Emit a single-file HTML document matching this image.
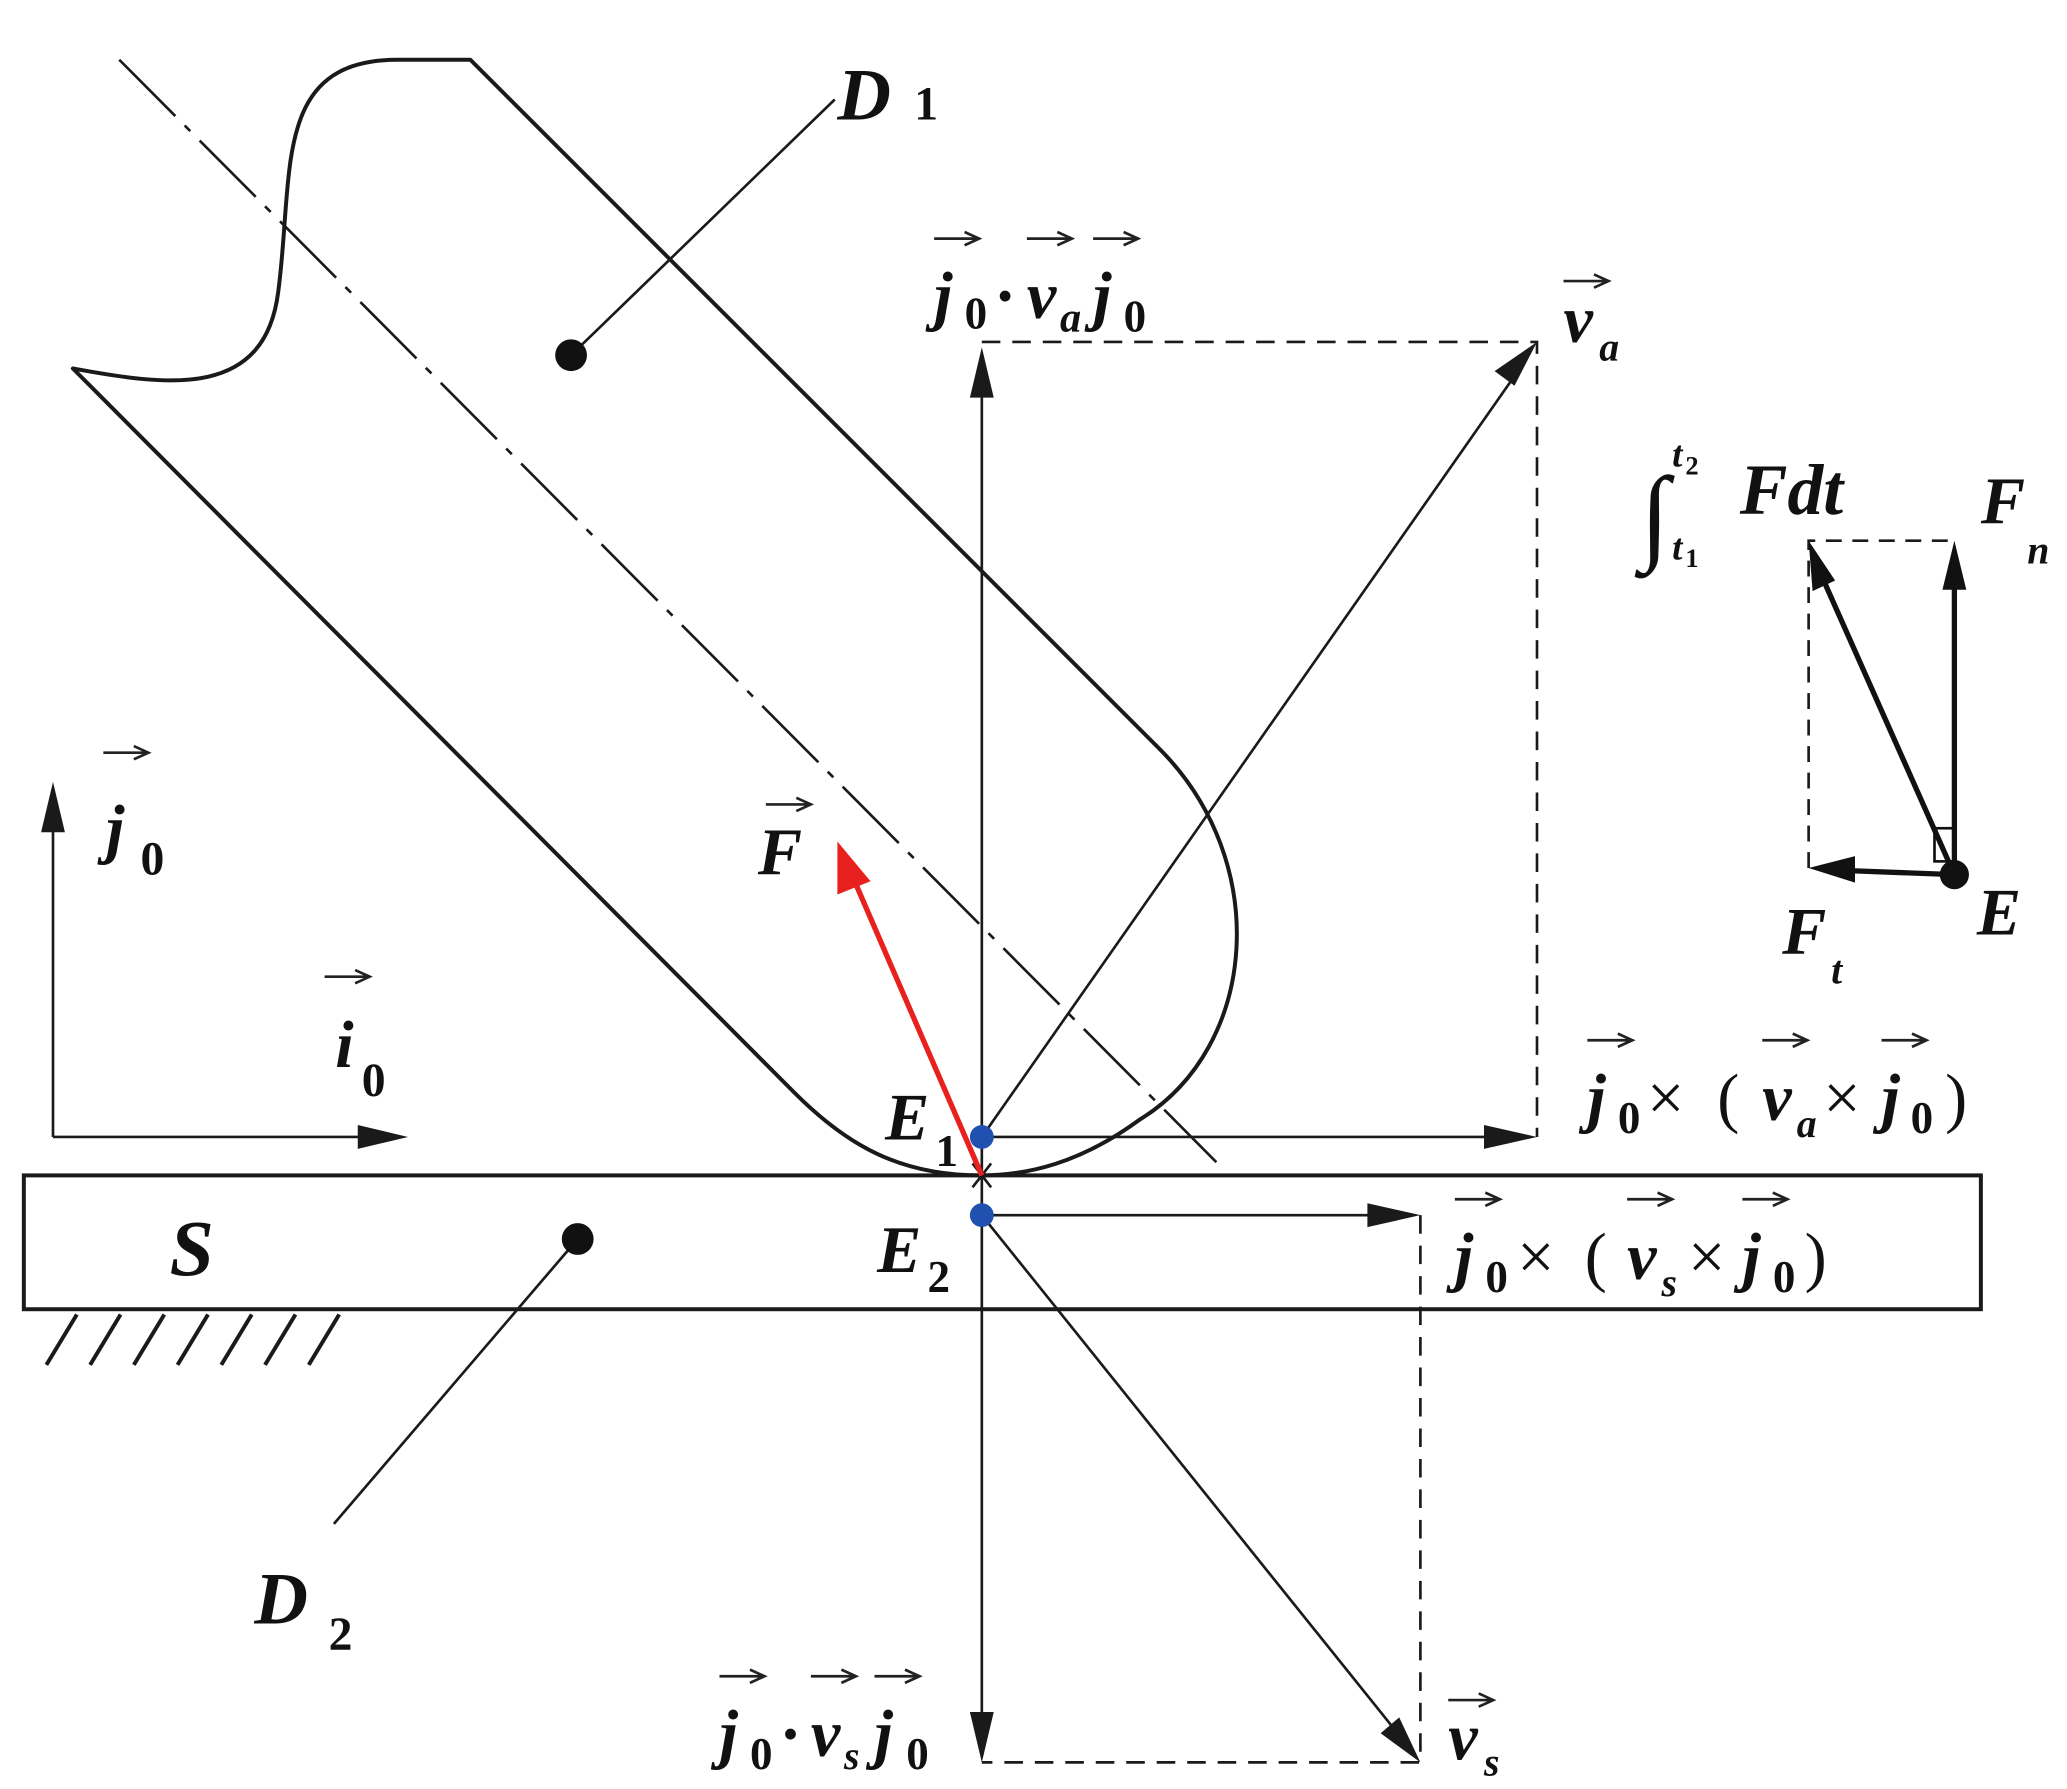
<!DOCTYPE html>
<html><head><meta charset="utf-8"><style>html,body{margin:0;padding:0;background:#fff}svg{display:block}</style></head>
<body>
<svg width="2067" height="1789" viewBox="0 0 1560 1350" xmlns="http://www.w3.org/2000/svg">
<defs>
<marker id="ah" markerWidth="10" markerHeight="8" refX="9" refY="4" orient="auto" markerUnits="userSpaceOnUse" viewBox="0 0 10 8">
</marker>
<g id="va"><path d="M0,0 H33 M23,-5 L34,0 L23,5" fill="none" stroke="#222" stroke-width="2"/></g>
</defs>
<g fill="none" stroke="#1a1a1a" stroke-width="3">
<!-- tool -->
<path d="M355,45 L875,565 C960,650 950,790 860,845 C815,878 775,887 740,887 C680,887 640,865 600,825 L55,278 C130,292 200,300 210,220 C222,130 205,45 300,45 Z" stroke-linejoin="round"/>
<!-- plate -->
<rect x="18" y="887" width="1477" height="101"/>
</g>
<g stroke="#1a1a1a" stroke-width="2" fill="none">
<line x1="90" y1="45" x2="918" y2="877" stroke-dasharray="60,10,6,10"/>
<line x1="431" y1="268" x2="630" y2="75"/>
<line x1="436" y1="935" x2="252" y2="1150"/>
<!-- hatch -->
<path d="M35,1030 L58,992 M68,1030 L91,992 M101,1030 L124,992 M134,1030 L157,992 M167,1030 L190,992 M200,1030 L223,992 M233,1030 L256,992" stroke-width="3"/>
<!-- vertical axis -->
<line x1="741" y1="290" x2="741" y2="1300"/>
<!-- dashed -->
<path d="M741,258 H1160 V858 M1072,917 V1330 H741" stroke-dasharray="14,9"/>
<path d="M1365,655 V408 H1475" stroke-dasharray="12,8"/>
<line x1="741" y1="858" x2="1125" y2="858"/>
<line x1="741" y1="858" x2="1140" y2="288"/>
<line x1="741" y1="917" x2="1040" y2="917"/>
<line x1="741" y1="917" x2="1050" y2="1302"/>
<line x1="40" y1="858" x2="40" y2="620"/>
<line x1="40" y1="858" x2="275" y2="858"/>
<!-- cross -->
<path d="M734,878 L748,896 M748,878 L734,896"/>
</g>
<!-- arrowheads -->
<g fill="#1a1a1a">
<polygon points="741,262 732,300 750,300"/>
<polygon points="741,1330 732,1292 750,1292"/>
<polygon points="1160,858 1120,849 1120,867"/>
<polygon points="1160,258 1128,280 1143,291"/>
<polygon points="1072,917 1032,908 1032,926"/>
<polygon points="1072,1330 1042,1308 1056,1296"/>
<polygon points="40,590 31,628 49,628"/>
<polygon points="308,858 270,849 270,867"/>
</g>
<!-- red F -->
<line x1="741" y1="887" x2="645" y2="665" stroke="#e8211f" stroke-width="4"/>
<polygon points="632,635 632,675 657,665" fill="#e8211f"/>
<!-- inset -->
<g stroke="#111" stroke-width="4" fill="none">
<line x1="1475" y1="660" x2="1475" y2="440"/>
<line x1="1475" y1="660" x2="1395" y2="657"/>
<line x1="1475" y1="660" x2="1375" y2="435"/>
<rect x="1460" y="625" width="15" height="25" stroke-width="2"/>
</g>
<g fill="#111">
<polygon points="1475,408 1466,445 1484,445"/>
<polygon points="1365,655 1400,646 1400,666"/>
<polygon points="1365,408 1368,446 1385,438"/>
<circle cx="1475" cy="660" r="11"/>
<circle cx="431" cy="268" r="12"/>
<circle cx="436" cy="935" r="12"/>
</g>
<circle cx="741" cy="858" r="9" fill="#2050b0"/>
<circle cx="741" cy="917" r="9" fill="#2050b0"/>
<!-- vector arrows over letters -->
<use href="#va" x="705" y="180"/><use href="#va" x="775" y="180"/><use href="#va" x="825" y="180"/>
<use href="#va" x="1180" y="212"/>
<use href="#va" x="578" y="607"/>
<use href="#va" x="78" y="568"/>
<use href="#va" x="245" y="737"/>
<use href="#va" x="1198" y="785"/><use href="#va" x="1330" y="785"/><use href="#va" x="1420" y="785"/>
<use href="#va" x="1098" y="905"/><use href="#va" x="1228" y="905"/><use href="#va" x="1315" y="905"/>
<use href="#va" x="543" y="1265"/><use href="#va" x="612" y="1265"/><use href="#va" x="660" y="1265"/>
<use href="#va" x="1093" y="1283"/>
<g font-family="Liberation Serif, serif" font-style="italic" font-weight="bold" fill="#111" font-size="50">
<text x="632" y="90" font-size="56">D</text><text x="690" y="90" font-size="36" font-style="normal">1</text>
<text x="192" y="1225" font-size="56">D</text><text x="248" y="1245" font-size="36" font-style="normal">2</text>
<text x="128" y="962" font-size="60">S</text>
<text x="668" y="860">E</text><text x="706" y="880" font-size="34" font-style="normal">1</text>
<text x="662" y="960">E</text><text x="700" y="975" font-size="34" font-style="normal">2</text>
<text x="572" y="660">F</text>
<text x="80" y="642">j</text><text x="106" y="660" font-size="36" font-style="normal">0</text>
<text x="253" y="805">i</text><text x="273" y="827" font-size="36" font-style="normal">0</text>
<!-- top -->
<text x="705" y="240">j</text><text x="728" y="248" font-size="34" font-style="normal">0</text>
<text x="752" y="240">·</text><text x="775" y="240">v</text><text x="800" y="250" font-size="32">a</text>
<text x="825" y="240">j</text><text x="848" y="250" font-size="34" font-style="normal">0</text>
<text x="1180" y="258">v</text><text x="1207" y="272" font-size="30">a</text>
<!-- middle right -->
<text x="1198" y="845">j</text><text x="1221" y="855" font-size="34" font-style="normal">0</text>
<text x="1243" y="845" font-style="normal" font-weight="normal">×</text>
<text x="1296" y="845" font-style="normal" font-weight="normal">(</text>
<text x="1330" y="845">v</text><text x="1356" y="858" font-size="30">a</text>
<text x="1376" y="845" font-style="normal" font-weight="normal">×</text>
<text x="1420" y="845">j</text><text x="1442" y="855" font-size="34" font-style="normal">0</text>
<text x="1468" y="845" font-style="normal" font-weight="normal">)</text>
<text x="1098" y="965">j</text><text x="1121" y="975" font-size="34" font-style="normal">0</text>
<text x="1145" y="965" font-style="normal" font-weight="normal">×</text>
<text x="1196" y="965" font-style="normal" font-weight="normal">(</text>
<text x="1228" y="965">v</text><text x="1254" y="978" font-size="30">s</text>
<text x="1274" y="965" font-style="normal" font-weight="normal">×</text>
<text x="1315" y="965">j</text><text x="1338" y="975" font-size="34" font-style="normal">0</text>
<text x="1362" y="965" font-style="normal" font-weight="normal">)</text>
<!-- bottom -->
<text x="543" y="1325">j</text><text x="566" y="1335" font-size="34" font-style="normal">0</text>
<text x="590" y="1325">·</text><text x="612" y="1325">v</text><text x="637" y="1335" font-size="30">s</text>
<text x="660" y="1325">j</text><text x="684" y="1335" font-size="34" font-style="normal">0</text>
<text x="1093" y="1328">v</text><text x="1120" y="1340" font-size="30">s</text>
<!-- inset -->
<text x="1238" y="415" font-size="80" font-style="normal" font-weight="normal">∫</text>
<text x="1262" y="352" font-size="28">t</text><text x="1272" y="358" font-size="20" font-style="normal">2</text>
<text x="1262" y="422" font-size="28">t</text><text x="1272" y="428" font-size="20" font-style="normal">1</text>
<text x="1313" y="388" font-size="54">Fdt</text>
<text x="1495" y="395">F</text><text x="1530" y="425" font-size="30">n</text>
<text x="1492" y="705">E</text>
<text x="1345" y="720">F</text><text x="1382" y="742" font-size="30">t</text>
</g>
</svg>
</body></html>
